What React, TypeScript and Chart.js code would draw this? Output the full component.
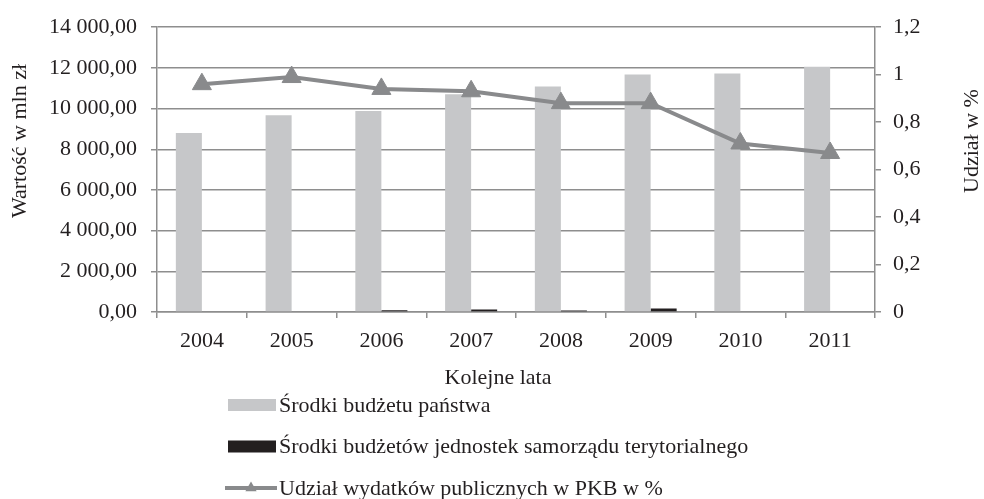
import React, { useEffect, useRef } from 'react';
import { Chart, registerables } from 'chart.js';

Chart.register(...registerables);

const years = ['2004', '2005', '2006', '2007', '2008', '2009', '2010', '2011'];
const stateBudget = [8800, 9670, 9880, 10700, 11090, 11670, 11720, 12050];
const localBudget = [0, 40, 80, 120, 70, 170, 40, 40];
const gdpShare = [0.96, 0.99, 0.94, 0.93, 0.88, 0.88, 0.71, 0.67];

const labelState = 'Środki budżetu państwa';
const labelLocal = 'Środki budżetów jednostek samorządu terytorialnego';
const labelShare = 'Udział wydatków publicznych w PKB w %';
const leftTitle = 'Wartość w mln zł';
const rightTitle = 'Udział w %';
const xTitle = 'Kolejne lata';

const FONT = '"Liberation Serif", "Times New Roman", serif';
const FS = 22;
const TEXT = '#231f20';
const GRID = '#8e8e8e';
const GRAY_BAR = '#c6c7c9';
const DARK_BAR = '#231f20';
const LINE = '#898a8c';

function fmtLeft(v: number): string {
  const n = Math.round(v);
  const s = String(n).replace(/\B(?=(\d{3})+(?!\d))/g, ' ');
  return s + ',00';
}

function fmtRight(v: number): string {
  return String(parseFloat(Number(v).toFixed(1))).replace('.', ',');
}

const extrasPlugin = {
  id: 'extras',
  afterDraw(chart: any) {
    const ctx = chart.ctx as CanvasRenderingContext2D;
    ctx.save();
    ctx.fillStyle = TEXT;
    ctx.font = `${FS}px ${FONT}`;
    ctx.textAlign = 'center';
    ctx.textBaseline = 'middle';
    // axis titles (rotated, reading upward)
    const titleY = 141;
    ctx.save();
    ctx.translate(20, titleY);
    ctx.rotate(-Math.PI / 2);
    ctx.fillText(leftTitle, 0, 0);
    ctx.restore();
    ctx.save();
    ctx.translate(972, titleY);
    ctx.rotate(-Math.PI / 2);
    ctx.fillText(rightTitle, 0, 0);
    ctx.restore();
    // category axis title
    ctx.fillText(xTitle, 498, 378);

    // legend
    const ds = chart.data.datasets;
    const baseY = chart.scales.x.bottom + 10;
    const step = 41.5;
    const bx = 228;
    const bw = 48;
    const tx = bx + bw + 3;
    ctx.textAlign = 'left';
    ds.forEach((d: any, i: number) => {
      const cy = baseY + i * step;
      if (d.type === 'line') {
        ctx.strokeStyle = d.borderColor;
        ctx.lineWidth = 4;
        ctx.beginPath();
        ctx.moveTo(bx - 3, cy);
        ctx.lineTo(bx + bw + 1, cy);
        ctx.stroke();
        const r = 6.5;
        const cx = bx + bw / 2 - 1;
        ctx.fillStyle = d.borderColor;
        ctx.beginPath();
        ctx.moveTo(cx, cy - r);
        ctx.lineTo(cx + r * 0.866, cy + r / 2);
        ctx.lineTo(cx - r * 0.866, cy + r / 2);
        ctx.closePath();
        ctx.fill();
      } else {
        ctx.fillStyle = d.backgroundColor;
        ctx.fillRect(bx, cy - 6, bw, 12);
      }
      ctx.fillStyle = TEXT;
      ctx.fillText(d.label, tx, cy + 1);
    });
    ctx.restore();
  },
};

export default function App() {
  const ref = useRef<HTMLCanvasElement | null>(null);

  useEffect(() => {
    document.body.style.margin = '0';
    const canvas = ref.current;
    if (!canvas) return;
    const tickFont = { family: FONT, size: FS };
    const chart = new Chart(canvas, {
      type: 'bar',
      data: {
        labels: years,
        datasets: [
          {
            type: 'bar',
            label: labelState,
            data: stateBudget,
            backgroundColor: GRAY_BAR,
            borderWidth: 0,
            yAxisID: 'y',
            order: 1,
            categoryPercentage: 0.58,
            barPercentage: 1,
          },
          {
            type: 'bar',
            label: labelLocal,
            data: localBudget,
            backgroundColor: DARK_BAR,
            borderWidth: 0,
            yAxisID: 'y',
            order: 2,
            categoryPercentage: 0.58,
            barPercentage: 1,
          },
          {
            type: 'line',
            label: labelShare,
            data: gdpShare,
            borderColor: LINE,
            backgroundColor: LINE,
            borderWidth: 4,
            pointStyle: 'triangle',
            pointRadius: 11,
            pointBackgroundColor: LINE,
            pointBorderColor: LINE,
            pointBorderWidth: 1,
            yAxisID: 'y1',
            order: 0,
            tension: 0,
          },
        ] as any,
      },
      options: {
        responsive: false,
        animation: false,
        events: [],
        layout: { padding: { top: 23, bottom: 104, left: 0, right: 0 } },
        plugins: {
          legend: { display: false },
          tooltip: { enabled: false },
        },
        scales: {
          x: {
            offset: true,
            grid: {
              offset: true,
              drawOnChartArea: false,
              drawTicks: true,
              tickLength: 6,
              color: GRID,
              lineWidth: 1.5,
            },
            border: { color: GRID, width: 1.5 },
            ticks: { font: tickFont, color: TEXT, padding: 10, maxRotation: 0 },
            afterFit(s: any) {
              s.height = 83;
            },
          },
          y: {
            position: 'left',
            min: 0,
            max: 14000,
            ticks: {
              stepSize: 2000,
              font: tickFont,
              color: TEXT,
              padding: 14,
              callback: (v: any) => fmtLeft(Number(v)),
            },
            grid: { color: GRID, lineWidth: 1.5, drawTicks: true, tickLength: 6 },
            border: { color: GRID, width: 1.5 },
            afterFit(s: any) {
              s.width = 157;
            },
          },
          y1: {
            position: 'right',
            min: 0,
            max: 1.2,
            ticks: {
              stepSize: 0.2,
              font: tickFont,
              color: TEXT,
              padding: 12,
              callback: (v: any) => fmtRight(Number(v)),
            },
            grid: {
              drawOnChartArea: false,
              drawTicks: true,
              tickLength: 6,
              color: GRID,
              lineWidth: 1.5,
            },
            border: { color: GRID, width: 1.5 },
            afterFit(s: any) {
              s.width = 109;
            },
          },
        },
      } as any,
      plugins: [extrasPlugin],
    });
    return () => chart.destroy();
  }, []);

  return (
    <div style={{ width: 984, height: 499 }}>
      <canvas ref={ref} width={984} height={499} style={{ display: 'block' }} />
    </div>
  );
}
